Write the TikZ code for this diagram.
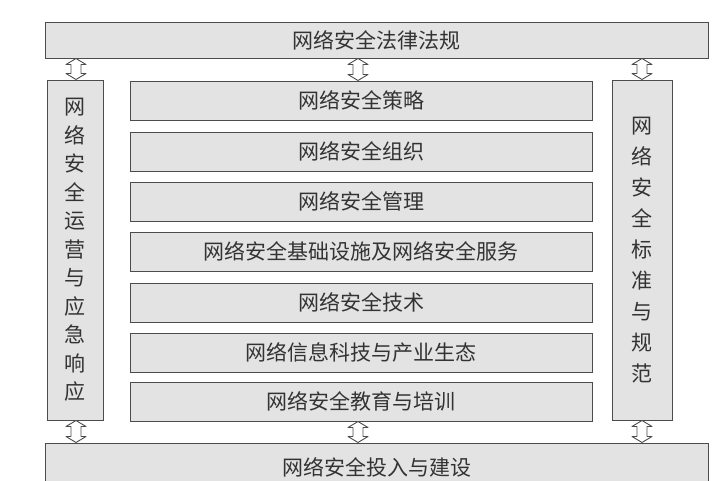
\documentclass[tikz,border=0pt]{standalone}
\usepackage{fontspec}
\setmainfont{Noto Sans CJK SC}
\tikzset{
  layer/.style={draw=gray!60!black, fill=gray!22, rectangle, anchor=north west, inner sep=0pt,
    font=\fontsize{21}{23}\selectfont, text=black!80},
  link/.style={draw=gray!60!black, fill=white, line width=0.9pt, line join=round}
}
% hollow two-headed arrow between two heights at x
\newcommand{\updownlink}[3]{%
  \draw [link] (#1,#2) -- (#1+10,#2+6) -- (#1+5,#2+6) -- (#1+5,#3-6) -- (#1+10,#3-6) -- (#1,#3)
    -- (#1-10,#3-6) -- (#1-5,#3-6) -- (#1-5,#2+6) -- (#1-10,#2+6) -- cycle;}
\begin{document}
\begin{tikzpicture}[x=1pt,y=-1pt]
            \useasboundingbox (0,0) rectangle (719,480);
            \node [layer, minimum width=663pt, minimum height=36pt] (law) at (45,22) {网络安全法律法规};
            \node [layer, minimum width=663pt, minimum height=48pt] (invest) at (45,443) {网络安全投入与建设};
            \node [layer, minimum width=56pt, minimum height=340pt, text width=22pt, align=center,
              font=\fontsize{21}{28.5}\selectfont] (ops) at (47,80)
              {网\\络\\安\\全\\运\\营\\与\\应\\急\\响\\应};
            \node [layer, minimum width=60pt, minimum height=340pt, text width=22pt, align=center,
              font=\fontsize{21}{31}\selectfont] (std) at (612,80)
              {网\\络\\安\\全\\标\\准\\与\\规\\范};
            \node [layer, minimum width=462pt, minimum height=39pt] (strategy) at (130,81) {网络安全策略};
            \node [layer, minimum width=462pt, minimum height=39pt] (org) at (130,132) {网络安全组织};
            \node [layer, minimum width=462pt, minimum height=39pt] (mgmt) at (130,182) {网络安全管理};
            \node [layer, minimum width=462pt, minimum height=39pt] (infra) at (130,232) {网络安全基础设施及网络安全服务};
            \node [layer, minimum width=462pt, minimum height=39pt] (tech) at (130,283) {网络安全技术};
            \node [layer, minimum width=462pt, minimum height=39pt] (eco) at (130,333) {网络信息科技与产业生态};
            \node [layer, minimum width=462pt, minimum height=39pt] (edu) at (130,382) {网络安全教育与培训};
            \updownlink{76}{58.5}{79.5}
            \updownlink{358}{58.5}{80.5}
            \updownlink{642}{58.5}{79.5}
            \updownlink{76}{420.5}{442.5}
            \updownlink{358}{421.5}{442.5}
            \updownlink{642}{420.5}{442.5}
        \end{tikzpicture}
\end{document}
